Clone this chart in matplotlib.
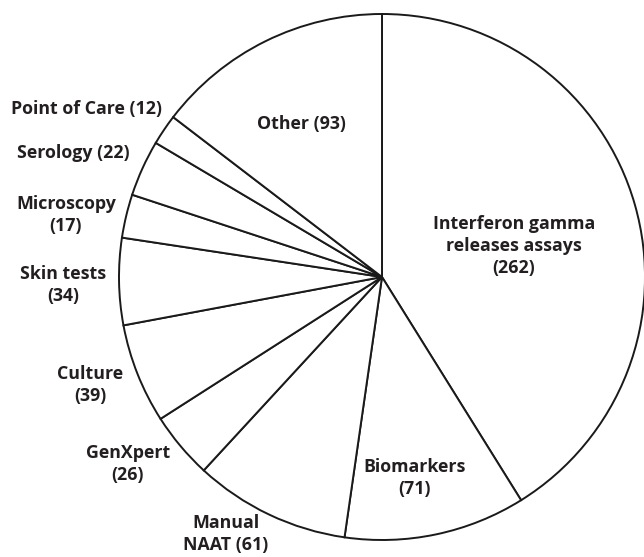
import matplotlib
matplotlib.use("Agg")
import matplotlib.pyplot as plt

categories = ["Interferon gamma\nreleases assays", "Biomarkers", "Manual\nNAAT", "GenXpert",
              "Culture", "Skin tests", "Microscopy", "Serology", "Point of Care", "Other"]
counts = [262, 71, 61, 26, 39, 34, 17, 22, 12, 93]
label_texts = ["Interferon gamma\nreleases assays\n(262)", "Biomarkers\n(71)", "Manual\nNAAT (61)",
               "GenXpert\n(26)", "Culture\n(39)", "Skin tests\n(34)", "Microscopy\n(17)",
               "Serology (22)", "Point of Care (12)", "Other (93)"]

# layout: label anchor positions in data units (pie radius = 1)
label_pos = [(0.502, 0.118), (0.122, -0.764), (-0.593, -0.977), (-0.966, -0.711),
             (-1.110, -0.411), (-1.213, -0.030), (-1.202, 0.236), (-1.175, 0.471),
             (-1.122, 0.639), (-0.308, 0.582)]

plt.rcParams['font.family'] = ['Open Sans', 'DejaVu Sans']

fig = plt.figure(figsize=(6.44, 5.57), dpi=100)
ax = fig.add_axes([119/644, 17/557, 526/644, 526/557])

wedges, _ = ax.pie(counts, startangle=90, counterclock=False, radius=1,
                   colors=['white'] * len(counts),
                   wedgeprops={'edgecolor': '#1a1a1a', 'linewidth': 1.4, 'clip_on': False})
ax.set_xlim(-1, 1)
ax.set_ylim(-1, 1)
ax.set_aspect('equal')
ax.axis('off')

for txt, (x, y) in zip(label_texts, label_pos):
    ax.text(x, y, txt, ha='center', va='center', fontsize=12.8, fontweight='bold',
            color='#231f20', linespacing=1.3, multialignment='center')

fig.savefig("out.png", dpi=100)
